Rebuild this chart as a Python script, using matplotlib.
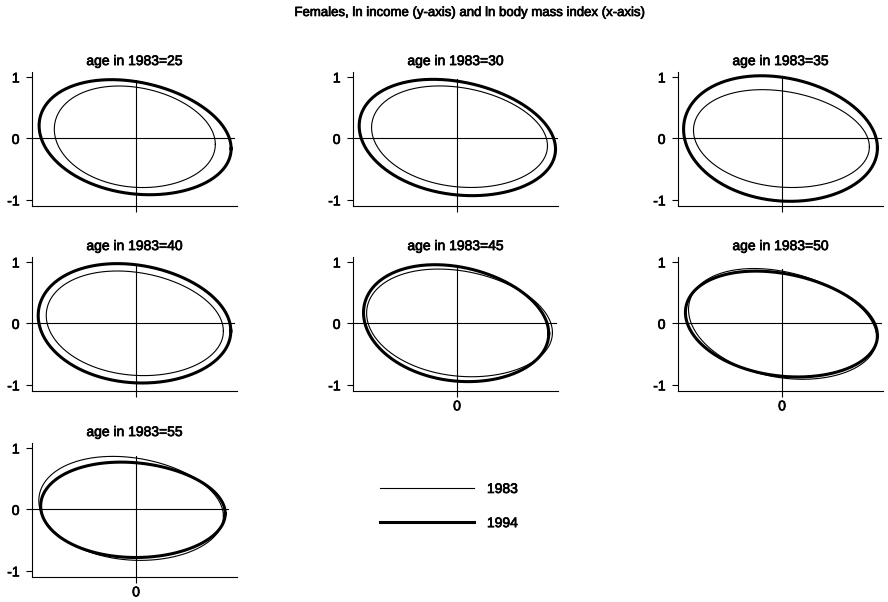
import numpy as np
import matplotlib
matplotlib.use("Agg")
import matplotlib.pyplot as plt
import matplotlib.patheffects as pe

plt.rcParams['font.family'] = ['Liberation Sans', 'DejaVu Sans']

# cohorts (age in 1983)
ages = [25, 30, 35, 40, 45, 50, 55]

# 1983 contour: means, spreads and correlation of (ln bmi, ln income)
mx_83 = [-0.02, 0.04, -0.01, -0.02, 0.04, 0.01, -0.08]
my_83 = [0.02, 0.02, -0.01, -0.005, 0.0, -0.02, 0.01]
sx_83 = [1.30, 1.42, 1.42, 1.43, 1.50, 1.52, 1.49]
sy_83 = [0.825, 0.825, 0.795, 0.85, 0.875, 0.90, 0.845]
rho_83 = [-0.15, -0.18, -0.17, -0.15, -0.18, -0.26, -0.15]

# 1994 contour
mx_94 = [-0.015, 0.005, -0.025, -0.025, -0.015, -0.01, -0.05]
my_94 = [0.01, 0.005, -0.01, -0.005, -0.005, -0.02, -0.01]
sx_94 = [1.55, 1.585, 1.565, 1.555, 1.495, 1.55, 1.49]
sy_94 = [0.935, 0.945, 1.02, 0.97, 0.95, 0.86, 0.775]
rho_94 = [-0.20, -0.20, -0.15, -0.13, -0.18, -0.22, -0.08]

# contours are a little wider on the low-bmi side
egg = 0.05

# panels that get the "0" label under the x axis
x_labelled = [45, 50, 55]

# slightly heavier text, like the printed original
heavy = [pe.withStroke(linewidth=0.5, foreground='black')]


def contour(mx, my, sx, sy, rho, n=300):
    t = np.linspace(0, 2 * np.pi, n)
    c, s = np.cos(t), np.sin(t)
    x = mx + sx * c
    y = my + sy * (rho * c + np.sqrt(1 - rho ** 2) * s) * (1 - egg * c)
    return x, y


W, H = 888, 602
fig = plt.figure(figsize=(W / 100, H / 100), dpi=100)

col_left = [32, 353, 678]
row_top = [72, 257, 443]
ax_w, ax_h = 205, 134
xlim = (-1.68, 1.63)
ylim = (-1.1, 1.08)

handles = None
for i, age in enumerate(ages):
    r, c = divmod(i, 3)
    ax = fig.add_axes([col_left[c] / W, 1 - (row_top[r] + ax_h) / H, ax_w / W, ax_h / H])

    x1, y1 = contour(mx_83[i], my_83[i], sx_83[i], sy_83[i], rho_83[i])
    x2, y2 = contour(mx_94[i], my_94[i], sx_94[i], sy_94[i], rho_94[i])
    l1, = ax.plot(x1, y1, color='black', lw=0.8, label='1983')
    l2, = ax.plot(x2, y2, color='black', lw=2.2, label='1994')
    handles = [l1, l2]

    # crosshair through the origin
    xmax = max(x1.max(), x2.max())
    ymax = max(y1.max(), y2.max())
    ax.plot([xlim[0], xmax + 0.05], [0, 0], color='black', lw=0.8)
    ax.plot([0, 0], [ylim[0], ymax], color='black', lw=0.8)

    ax.set_xlim(xlim)
    ax.set_ylim(ylim)
    ax.set_yticks([-1, 0, 1])
    ax.set_yticklabels(['-1', '0', '1'])
    ax.set_xticks([0])
    ax.set_xticklabels(['0'] if age in x_labelled else [''])
    ax.tick_params(direction='out', length=4, width=0.8, labelsize=10, pad=5)
    ax.tick_params(axis='x', pad=2)
    for lab in ax.get_xticklabels() + ax.get_yticklabels():
        lab.set_path_effects(heavy)
    for s in ['top', 'right']:
        ax.spines[s].set_visible(False)
    for s in ['left', 'bottom']:
        ax.spines[s].set_linewidth(0.8)
    ax.set_title('age in 1983=%d' % age, fontsize=10, pad=5, path_effects=heavy)

fig.text(470 / W, 1 - 13 / H, 'Females, ln income (y-axis) and ln body mass index (x-axis)',
         ha='center', va='center', fontsize=9.5, path_effects=heavy)

leg = fig.legend(handles=handles, loc='upper left', bbox_to_anchor=(380 / W, 1 - 482 / H),
                 frameon=False, fontsize=10, handlelength=6.8, handletextpad=0.9,
                 labelspacing=1.45, borderpad=0, borderaxespad=0)
for t in leg.get_texts():
    t.set_path_effects(heavy)

fig.savefig('out.png', dpi=100)
